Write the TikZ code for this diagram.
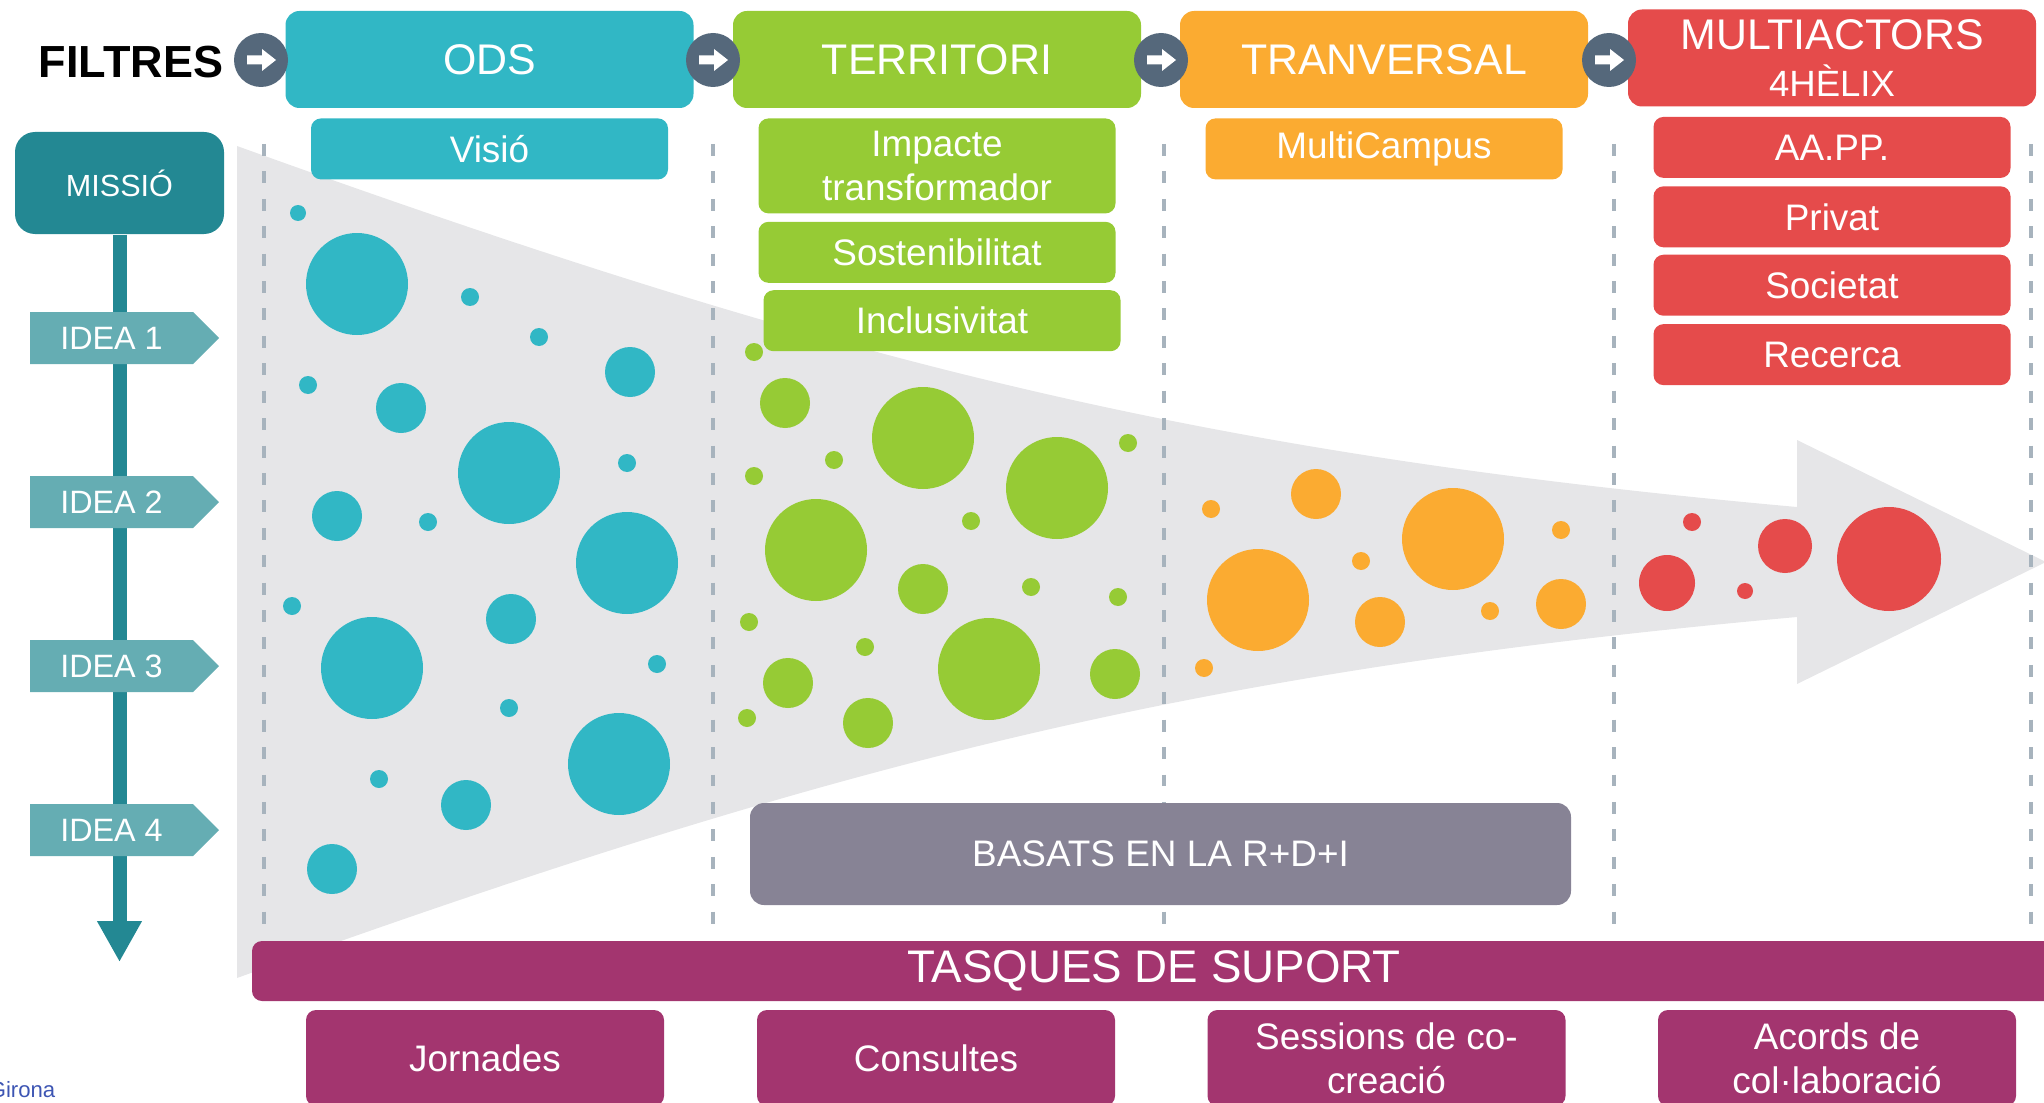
\documentclass[tikz,border=0pt]{standalone}
\usepackage{fontspec}
\setmainfont{Liberation Sans}
\usetikzlibrary{positioning}
\usetikzlibrary{shapes.symbols}
\usetikzlibrary{arrows.meta}

\definecolor{odsc}{RGB}{49,183,197}
\definecolor{terrc}{RGB}{150,203,53}
\definecolor{transc}{RGB}{251,171,49}
\definecolor{multic}{RGB}{229,75,75}
\definecolor{filtc}{RGB}{85,104,123}
\definecolor{missioc}{RGB}{35,136,147}
\definecolor{ideac}{RGB}{101,173,179}
\definecolor{flowc}{RGB}{230,230,232}
\definecolor{guidec}{RGB}{167,179,189}
\definecolor{basatsc}{RGB}{135,131,149}
\definecolor{suportc}{RGB}{163,53,111}
\definecolor{gironac}{RGB}{61,85,179}

\begin{document}
\begin{tikzpicture}[
        box/.style={rounded corners=0.14cm, text=white, inner sep=0pt, align=center},
        head/.style={box, minimum width=4.08cm, minimum height=0.97cm, font=\fontsize{12.2}{13.4}\selectfont},
        sub/.style={box, rounded corners=0.1cm, minimum width=3.57cm, minimum height=0.61cm, font=\fontsize{10.5}{12.6}\selectfont},
        task/.style={sub, minimum width=3.58cm, minimum height=0.96cm},
        filt/.style={circle, fill=filtc, minimum size=0.54cm, inner sep=0pt},
        idea/.style={signal, signal to=east, signal pointer angle=90, fill=ideac, text=white, minimum width=1.89cm, minimum height=0.52cm, inner sep=0pt, font=\fontsize{9.2}{11}\selectfont},
        guide/.style={guidec, line width=1.4pt, dash pattern=on 3.4pt off 4.4pt}
    ]
        \useasboundingbox (0,0) rectangle (20.44,-11.03);

        % big grey funnel arrow
        \fill[flowc] (2.37,-1.46) .. controls (8.37,-3.62) and (11.97,-4.53) .. (17.97,-5.07)
            -- (17.97,-4.40) -- (20.46,-5.62) -- (17.97,-6.84) -- (17.97,-6.17)
            .. controls (11.97,-6.71) and (8.37,-7.62) .. (2.37,-9.78) -- cycle;

        \foreach \x in {2.64,7.13,11.64,16.14,20.31}
            \draw[guide] (\x,-1.44) -- (\x,-9.32);

        % ideas
        \foreach \x/\y/\r in {2.98/-2.13/0.08, 3.57/-2.84/0.51, 4.70/-2.97/0.09, 5.39/-3.37/0.09,
                6.30/-3.72/0.25, 3.08/-3.85/0.09, 4.01/-4.08/0.25, 5.09/-4.73/0.51, 6.27/-4.63/0.09,
                3.37/-5.16/0.25, 4.28/-5.22/0.09, 6.27/-5.63/0.51, 2.92/-6.06/0.09, 5.11/-6.19/0.25,
                3.72/-6.68/0.51, 6.57/-6.64/0.09, 5.09/-7.08/0.09, 6.19/-7.64/0.51, 3.79/-7.79/0.09,
                4.66/-8.05/0.25, 3.32/-8.69/0.25}
            \fill[odsc] (\x,\y) circle (\r);
        \foreach \x/\y/\r in {7.54/-3.52/0.09, 7.85/-4.03/0.25, 9.23/-4.38/0.51, 8.34/-4.60/0.09,
                7.54/-4.76/0.09, 11.28/-4.43/0.09, 10.57/-4.88/0.51, 9.71/-5.21/0.09, 8.16/-5.50/0.51,
                9.23/-5.89/0.25, 10.31/-5.87/0.09, 11.18/-5.97/0.09, 7.49/-6.22/0.09, 8.65/-6.47/0.09,
                7.88/-6.83/0.25, 9.89/-6.69/0.51, 11.15/-6.74/0.25, 7.47/-7.18/0.09, 8.68/-7.23/0.25}
            \fill[terrc] (\x,\y) circle (\r);
        \foreach \x/\y/\r in {12.11/-5.09/0.09, 13.16/-4.94/0.25, 14.53/-5.39/0.51, 15.61/-5.30/0.09,
                12.58/-6.00/0.51, 13.61/-5.61/0.09, 13.80/-6.22/0.25, 14.90/-6.11/0.09,
                15.61/-6.04/0.25, 12.04/-6.68/0.09}
            \fill[transc] (\x,\y) circle (\r);
        \foreach \x/\y/\r in {16.92/-5.22/0.09, 17.85/-5.46/0.27, 18.89/-5.59/0.52,
                16.67/-5.83/0.28, 17.45/-5.91/0.08}
            \fill[multic] (\x,\y) circle (\r);

        % filters
        \node[inner sep=0pt, font=\fontsize{12.8}{14}\selectfont\bfseries] (filtres) at (1.31,-0.62) {FILTRES};
        \node[head, fill=odsc] (ods) at (4.895,-0.595) {ODS};
        \node[head, fill=terrc] (terr) at (9.37,-0.595) {TERRITORI};
        \node[head, fill=transc] (trans) at (13.84,-0.595) {TRANVERSAL};
        \node[head, fill=multic] (multi) at (18.32,-0.58) {MULTIACTORS\\{\fontsize{10.4}{12}\selectfont 4HÈLIX}};

        \node[sub, fill=odsc, below=0.09cm of ods] (visio) {Visió};
        \node[sub, fill=terrc, minimum height=0.95cm, below=0.09cm of terr] (impacte) {Impacte\\transformador};
        \node[sub, fill=terrc, below=0.07cm of impacte] (sosten) {Sostenibilitat};
        \node[sub, fill=terrc, below=0.06cm of sosten, xshift=0.05cm] (inclus) {Inclusivitat};
        \node[sub, fill=transc, below=0.09cm of trans] (campus) {MultiCampus};
        \node[sub, fill=multic, below=0.09cm of multi] (aapp) {AA.PP.};
        \node[sub, fill=multic, below=0.07cm of aapp] (privat) {Privat};
        \node[sub, fill=multic, below=0.06cm of privat] (societat) {Societat};
        \node[sub, fill=multic, below=0.07cm of societat] (recerca) {Recerca};

        \node[filt] (f1) at (2.61,-0.60) {};
        \node[filt] (f2) at (7.13,-0.60) {};
        \node[filt] (f3) at (11.61,-0.60) {};
        \node[filt] (f4) at (16.09,-0.60) {};
        \foreach \f in {f1,f2,f3,f4}
            \fill[white, shift={(\f.center)}] (-0.14,0.045) -- (0.01,0.045) -- (0.01,0.11)
                -- (0.15,0) -- (0.01,-0.11) -- (0.01,-0.045) -- (-0.14,-0.045) -- cycle;

        % mission and ideas
        \node[box, rounded corners=0.2cm, fill=missioc, minimum width=2.09cm, minimum height=1.02cm,
            font=\fontsize{8.7}{10}\selectfont] (missio) at (1.195,-1.83) {MISSIÓ};
        \coordinate (missioend) at (1.195,-9.62);
        \draw[missioc, line width=0.14cm, -{Triangle[length=0.41cm,width=0.42cm]}] (missio) -- (missioend);
        \node[idea] (idea1) at (1.115,-3.38) {IDEA 1};
        \node[idea] (idea2) at (1.115,-5.02) {IDEA 2};
        \node[idea] (idea3) at (1.115,-6.66) {IDEA 3};
        \node[idea] (idea4) at (1.115,-8.30) {IDEA 4};

        % support
        \node[box, fill=basatsc, minimum width=8.21cm, minimum height=1.02cm,
            font=\fontsize{10.5}{12.6}\selectfont] (basats) at (11.605,-8.54) {BASATS EN LA R+D+I};
        \node[box, rounded corners=0.1cm, fill=suportc, minimum width=18.04cm, minimum height=0.60cm,
            font=\fontsize{13}{15}\selectfont] (suport) at (11.54,-9.71) {TASQUES DE SUPORT};
        \node[task, fill=suportc] (jornades) at (4.85,-10.58) {Jornades};
        \node[task, fill=suportc] (consultes) at (9.36,-10.58) {Consultes};
        \node[task, fill=suportc] (sessions) at (13.865,-10.58) {Sessions de co-\\creació};
        \node[task, fill=suportc] (acords) at (18.37,-10.58) {Acords de\\col·laboració};

        \node[anchor=east, inner sep=0pt, text=gironac, font=\fontsize{6.3}{7}\selectfont] (girona) at (0.56,-10.90) {Girona};
    \end{tikzpicture}
\end{document}
